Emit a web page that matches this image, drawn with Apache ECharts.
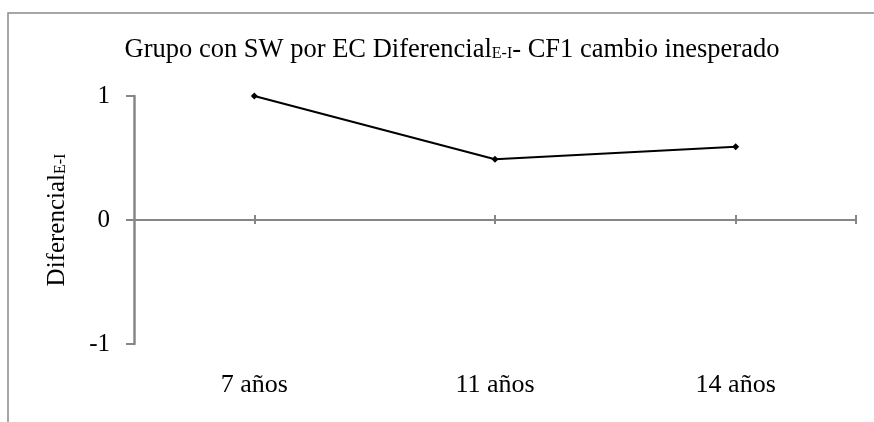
<!DOCTYPE html>
<html>
<head>
<meta charset="utf-8">
<script src="https://cdn.jsdelivr.net/npm/echarts@6/dist/echarts.min.js"></script>
<style>
  html, body { margin: 0; padding: 0; background: #fff; }
  #chart { width: 874px; height: 422px; }
</style>
</head>
<body>
<div id="chart"></div>
<script>
// Age groups and the E-I differential for each
var categories = ['7 años', '11 años', '14 años'];
var diferencial = [1.0, 0.49, 0.59];
var yTicks = [-1, 0, 1];

var serif = 'Liberation Serif, Times New Roman, serif';
var axisGray = '#868686';
var subStyle = { fontFamily: serif, fontSize: 16, color: '#000', padding: [0, 0, -7, 0] };

var gridBox = { left: 134, right: 18, top: 96, bottom: 78 };
var plotHeight = 422 - gridBox.top - gridBox.bottom;
var yMin = yTicks[0], yMax = yTicks[yTicks.length - 1];
// distance from the bottom edge of the plot up to the zero line
var zeroRise = plotHeight * (0 - yMin) / (yMax - yMin);

// Marks on the zero line sit under each category and at the far end,
// measured in half-category steps along the plot width.
var halfSteps = categories.length * 2;
var zeroLineMarks = categories.map(function (c, i) { return 2 * i + 1; }).concat([halfSteps]);

var chart = echarts.init(document.getElementById('chart'));
chart.setOption({
  animation: false,
  backgroundColor: '#fff',
  graphic: [{
    type: 'rect',
    shape: { x: 8, y: 13, width: 900, height: 500 },
    style: { fill: 'none', stroke: '#8a8a8a', lineWidth: 1.5 },
    silent: true
  }],
  title: {
    text: 'Grupo con SW por EC Diferencial{sub|E-I}- CF1 cambio inesperado',
    left: 447,
    textAlign: 'center',
    top: 32,
    textStyle: {
      fontFamily: serif,
      fontSize: 26.5,
      fontWeight: 'normal',
      color: '#000',
      rich: { sub: subStyle }
    }
  },
  grid: { left: gridBox.left, right: gridBox.right, top: gridBox.top, bottom: gridBox.bottom, containLabel: false },
  xAxis: [{
    // category labels along the bottom of the plot
    type: 'category',
    data: categories,
    boundaryGap: true,
    position: 'bottom',
    axisLine: { show: false, onZero: false },
    axisTick: { show: false },
    axisLabel: { margin: 28, fontFamily: serif, fontSize: 26, color: '#000' }
  }, {
    // zero line, marks hanging below it
    type: 'value',
    min: 0,
    max: halfSteps,
    position: 'bottom',
    axisLine: { show: true, onZero: true, lineStyle: { color: axisGray, width: 2 } },
    axisTick: { show: true, length: 4, customValues: zeroLineMarks, lineStyle: { color: axisGray, width: 2 } },
    axisLabel: { show: false },
    splitLine: { show: false }
  }, {
    // same marks rising above the zero line
    type: 'value',
    min: 0,
    max: halfSteps,
    position: 'bottom',
    offset: -zeroRise,
    axisLine: { show: false, onZero: false },
    axisTick: { show: true, inside: true, length: 5, customValues: zeroLineMarks, lineStyle: { color: axisGray, width: 2 } },
    axisLabel: { show: false },
    splitLine: { show: false }
  }],
  yAxis: {
    type: 'value',
    min: yMin,
    max: yMax,
    interval: 1,
    name: 'Diferencial{sub|E-I}',
    nameLocation: 'middle',
    nameGap: 64,
    nameRotate: 90,
    nameTextStyle: {
      fontFamily: serif,
      fontSize: 25,
      color: '#000',
      rich: { sub: subStyle }
    },
    axisLine: { show: true, lineStyle: { color: axisGray, width: 2.5 } },
    axisTick: { show: true, length: 8, lineStyle: { color: axisGray, width: 2 } },
    axisLabel: { margin: 24, fontFamily: serif, fontSize: 25, color: '#000' },
    splitLine: { show: false }
  },
  series: [{
    type: 'line',
    xAxisIndex: 0,
    data: diferencial,
    symbol: 'diamond',
    symbolSize: 7,
    lineStyle: { color: '#000', width: 2 },
    itemStyle: { color: '#000' }
  }]
});
</script>
</body>
</html>
